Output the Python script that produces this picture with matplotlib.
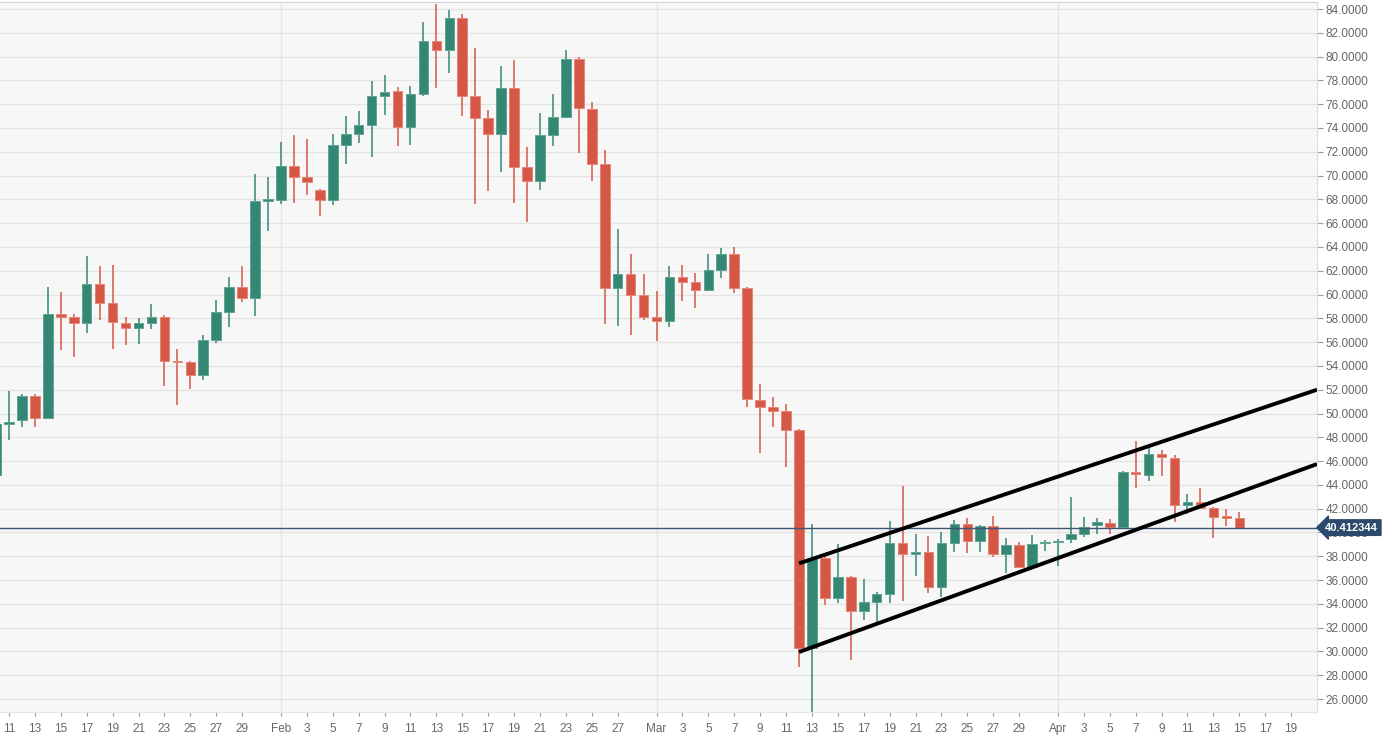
import matplotlib
matplotlib.use("Agg")
import matplotlib.pyplot as plt
import matplotlib.dates as mdates
from matplotlib.transforms import blended_transform_factory
import pandas as pd

# daily candles, 2020-01-10 .. 2020-04-15
dates = pd.date_range("2020-01-10", "2020-04-15", freq="D")

opens = [44.85, 49.1, 49.45, 51.5, 49.6, 58.36, 58.1, 57.6, 60.9, 59.3,
         57.6, 57.2, 57.6, 58.1, 54.4, 54.3, 53.2, 56.2, 58.5, 60.6,
         59.7, 67.9, 67.95, 70.8, 69.9, 68.8, 67.95, 72.6, 73.5, 74.25,
         76.7, 77.1, 74.1, 76.85, 81.3, 80.55, 83.25, 76.7, 74.8, 73.5,
         77.35, 70.7, 69.55, 73.4, 74.9, 79.8, 75.6, 70.95, 60.55, 61.7,
         60.0, 58.1, 57.8, 61.5, 61.05, 60.4, 62.1, 63.4, 60.55, 51.1,
         50.55, 50.2, 48.6, 30.3, 37.85, 34.5, 36.25, 33.4, 34.15, 34.8,
         39.1, 38.2, 38.35, 35.4, 39.1, 40.7, 39.3, 40.55, 38.2, 38.95,
         37.1, 39.1, 39.2, 39.45, 39.9, 40.6, 40.8, 40.45, 45.1, 44.85,
         46.6, 46.3, 42.3, 42.6, 42.05, 41.3, 41.2]
highs = [49.9, 51.9, 51.6, 51.6, 60.6, 60.2, 58.4, 63.2, 62.4, 62.5,
         58.1, 58.0, 59.2, 58.3, 55.4, 54.4, 56.6, 59.5, 61.5, 62.4,
         70.1, 69.9, 72.8, 73.4, 73.1, 68.9, 73.5, 75.0, 75.4, 77.95,
         78.45, 77.45, 77.5, 82.9, 84.4, 83.9, 83.6, 80.7, 75.5, 79.2,
         79.7, 72.4, 75.3, 76.85, 80.55, 79.95, 76.2, 72.15, 65.5, 63.4,
         61.7, 60.3, 62.4, 62.5, 61.8, 63.4, 63.9, 64.0, 60.6, 52.5,
         51.4, 50.8, 48.7, 40.7, 38.1, 39.0, 36.3, 36.1, 35.0, 41.0,
         43.9, 39.9, 39.7, 40.0, 41.05, 41.2, 40.6, 41.4, 39.5, 39.2,
         39.8, 39.35, 39.45, 43.0, 41.3, 41.2, 41.1, 45.2, 47.7, 47.1,
         46.9, 46.5, 43.2, 43.75, 42.1, 42.0, 41.7]
lows = [44.5, 47.8, 48.9, 48.9, 49.5, 55.3, 54.75, 56.8, 57.9, 55.4,
        55.8, 55.85, 57.1, 52.3, 50.7, 52.1, 52.8, 55.9, 57.3, 59.4,
        58.2, 65.3, 67.6, 67.7, 68.4, 66.6, 67.5, 71.0, 72.7, 71.6,
        75.1, 72.5, 72.6, 76.7, 77.4, 78.6, 75.0, 67.6, 68.7, 70.3,
        67.7, 66.1, 68.8, 72.5, 74.8, 71.9, 69.55, 57.5, 57.35, 56.6,
        57.9, 56.1, 57.3, 59.45, 58.85, 60.3, 61.4, 60.1, 50.55, 46.7,
        48.9, 45.5, 28.7, 24.5, 33.9, 34.1, 29.3, 32.65, 32.5, 34.1,
        34.2, 36.35, 34.9, 34.6, 38.35, 38.3, 38.4, 37.95, 36.6, 37.0,
        37.0, 38.45, 37.2, 39.1, 39.6, 39.9, 39.9, 40.4, 43.7, 44.3,
        44.75, 40.9, 41.55, 42.0, 39.55, 40.55, 40.3]
closes = [49.1, 49.3, 51.5, 49.6, 58.36, 58.1, 57.6, 60.9, 59.3, 57.7,
          57.2, 57.6, 58.1, 54.4, 54.3, 53.2, 56.2, 58.5, 60.6, 59.7,
          67.9, 68.0, 70.8, 69.9, 69.5, 67.95, 72.6, 73.5, 74.25, 76.7,
          77.0, 74.1, 76.85, 81.3, 80.55, 83.25, 76.7, 74.8, 73.5, 77.35,
          70.7, 69.55, 73.4, 74.9, 79.8, 75.7, 70.95, 60.55, 61.7, 60.0,
          58.1, 57.8, 61.5, 61.05, 60.4, 62.1, 63.4, 60.55, 51.2, 50.55,
          50.2, 48.6, 30.3, 37.85, 34.5, 36.25, 33.4, 34.15, 34.8, 39.1,
          38.2, 38.35, 35.4, 39.1, 40.7, 39.3, 40.55, 38.2, 38.95, 37.1,
          39.0, 39.15, 39.3, 39.9, 40.45, 40.85, 40.45, 45.1, 44.9, 46.6,
          46.35, 42.3, 42.55, 42.05, 41.3, 41.25, 40.412344]

last_price = 40.412344

# channel lines drawn on the chart
upper_x = ["2020-03-12", "2020-04-21"]
upper_y = [37.4, 52.0]
lower_x = ["2020-03-12", "2020-04-21"]
lower_y = [29.95, 45.75]

UP = "#338773"
UP_EDGE = "#5fa593"
DOWN = "#d55847"
DOWN_EDGE = "#e48778"

fig = plt.figure(figsize=(13.99, 7.37), dpi=100)
ax = fig.add_axes([0, 25 / 737, 1317 / 1399, 710 / 737])
ax.set_facecolor("#f7f7f7")

x = mdates.date2num(dates)
up = [c >= o for o, c in zip(opens, closes)]
colors = [UP if u else DOWN for u in up]
edges = [UP_EDGE if u else DOWN_EDGE for u in up]
bottoms = [min(o, c) for o, c in zip(opens, closes)]
heights = [max(abs(c - o), 0.12) for o, c in zip(opens, closes)]

ax.vlines(x, lows, highs, colors=colors, linewidth=1.1, zorder=3)
ax.bar(x, heights, bottom=bottoms, width=0.74, color=colors,
       edgecolor=edges, linewidth=0.7, zorder=4)

# channel
ax.plot(mdates.datestr2num(upper_x), upper_y, color="black", lw=2.8,
        solid_capstyle="butt", zorder=6)
ax.plot(mdates.datestr2num(lower_x), lower_y, color="black", lw=2.8,
        solid_capstyle="butt", zorder=6)

# last price line + tag
ax.axhline(last_price, color="#3d5675", lw=1, zorder=5)
trans = blended_transform_factory(ax.transAxes, ax.transData)
ax.annotate(f"{last_price:.6f}", xy=(1.0, last_price), xycoords=trans,
            xytext=(6, 0), textcoords="offset points", ha="left", va="center",
            color="white", fontsize=8, fontweight="bold",
            family="Liberation Sans", annotation_clip=False, zorder=10,
            bbox=dict(boxstyle="larrow,pad=0.25", fc="#2d4a6d", ec="#2d4a6d"))

d0 = mdates.date2num(pd.Timestamp("2020-01-11"))
ax.set_xlim(d0 - 0.695, d0 + 101.0)
ax.set_ylim(24.91, 84.59)

# x ticks: odd days, month name on the 1st, skip month-end days
tick_days = pd.date_range("2020-01-11", "2020-04-19", freq="D")
tpos, tlab = [], []
for d in tick_days:
    if d.day == 1:
        tpos.append(mdates.date2num(d))
        tlab.append(d.strftime("%b"))
    elif d.day % 2 == 1 and not d.is_month_end:
        tpos.append(mdates.date2num(d))
        tlab.append(str(d.day))
ax.set_xticks(tpos)
ax.set_xticklabels(tlab)

yt = list(range(26, 85, 2))
ax.yaxis.tick_right()
ax.set_yticks(yt)
ax.set_yticklabels([f"{v:.4f}" for v in yt])

ax.tick_params(axis="both", colors="#9a9a9a", labelcolor="#666666",
               labelsize=8.5, length=3, width=0.8)
ax.tick_params(axis="x", pad=5)
ax.tick_params(axis="y", pad=2, length=4)
for lbl in ax.get_xticklabels() + ax.get_yticklabels():
    lbl.set_family("Liberation Sans")

ax.grid(axis="y", color="#e4e4e4", lw=1)
ax.set_axisbelow(True)
for m in ["2020-02-01", "2020-03-01", "2020-04-01"]:
    ax.axvline(mdates.datestr2num(m), color="#e4e4e4", lw=1, zorder=0)

ax.spines["left"].set_visible(False)
ax.spines["top"].set_color("#cdd5e3")
ax.spines["right"].set_color("#d9dee7")
ax.spines["bottom"].set_color("#e2e6ec")

fig.savefig("out.png", dpi=100)
